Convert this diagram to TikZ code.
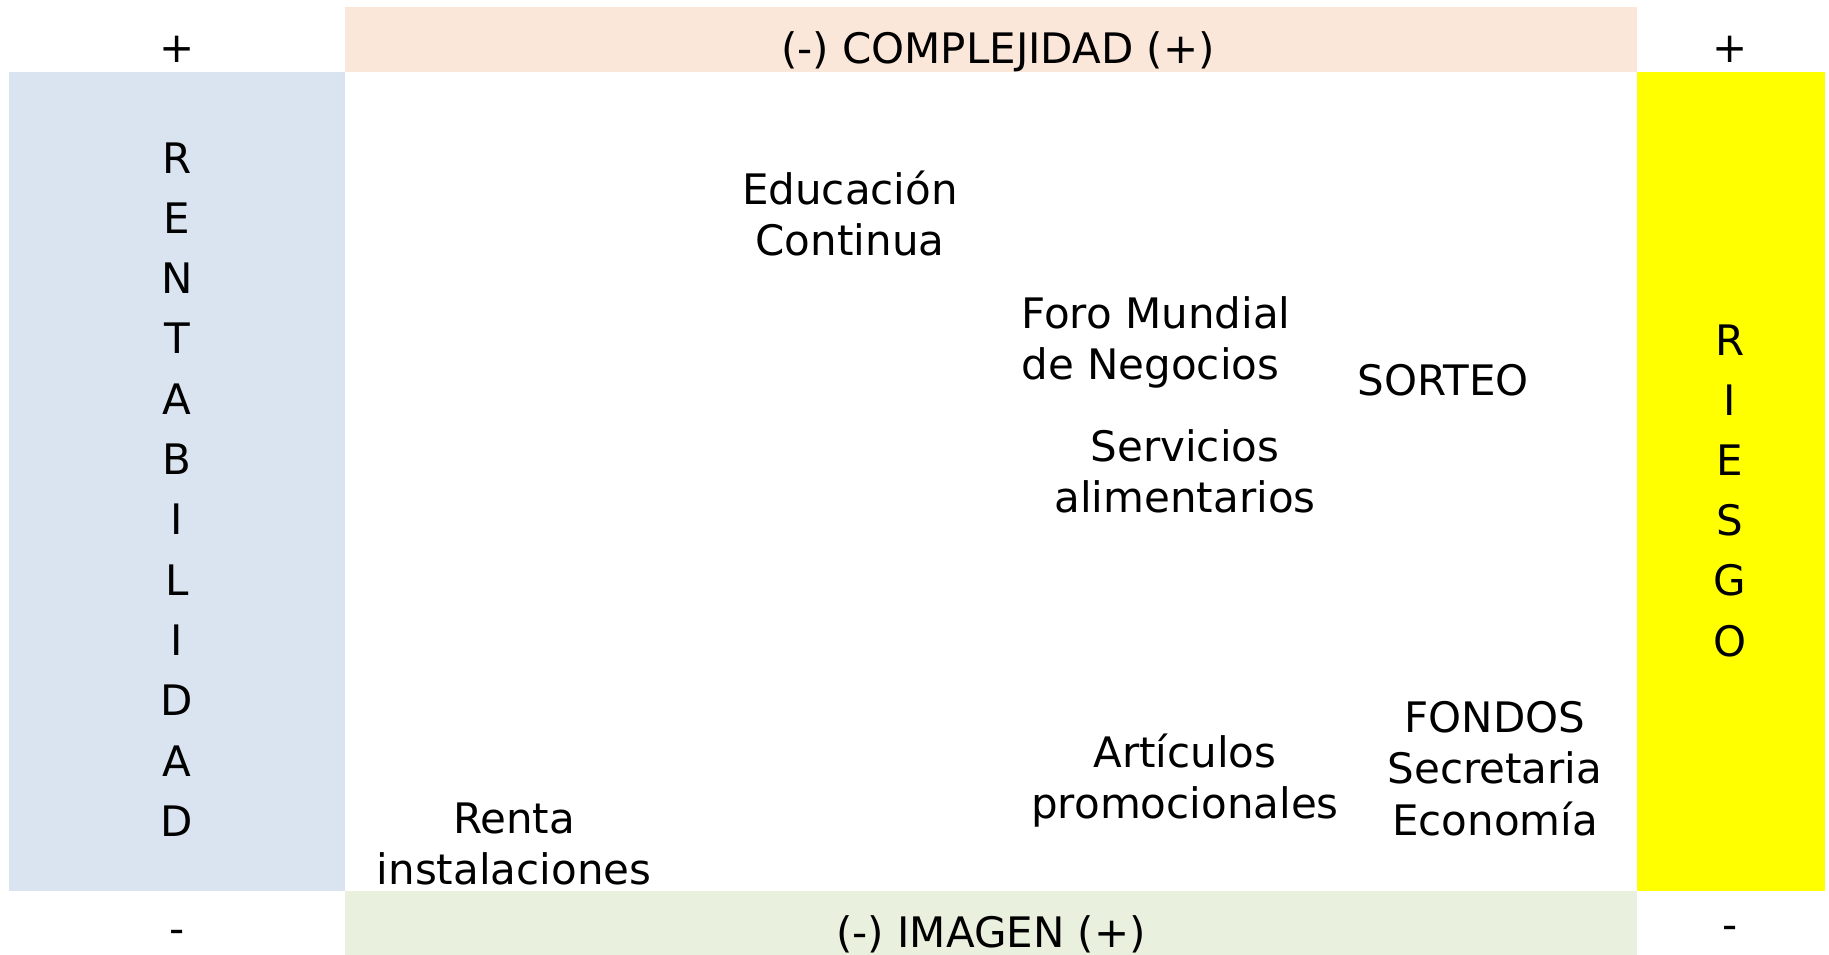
\documentclass[tikz,border=0pt]{standalone}
\usepackage{fontspec}
\setmainfont{DejaVu Sans}
\definecolor{rentblue}{HTML}{DAE3F0}
\definecolor{compeach}{HTML}{FBE7DA}
\definecolor{imggreen}{HTML}{E9F0DE}
\definecolor{riskyellow}{HTML}{FFFF00}
\newcommand{\lnsc}[1]{\begin{tabular}[t]{@{}c@{}}#1\end{tabular}}
\newcommand{\lnsl}[1]{\begin{tabular}[t]{@{}l@{}}#1\end{tabular}}
\tikzset{
  lbl/.style={inner sep=0pt, outer sep=0pt, font=\fontsize{42}{51.3}\selectfont, anchor=base},
  sgn/.style={inner sep=0pt, outer sep=0pt, font=\fontsize{42}{51.3}\selectfont, anchor=center}
}
\begin{document}
\begin{tikzpicture}[x=1pt,y=-1pt]
\useasboundingbox (0,0) rectangle (1829,955);
% bands
\fill[compeach] (345,7) rectangle (1637,72);
\fill[rentblue] (9,72) rectangle (345,891);
\fill[riskyellow] (1637,72) rectangle (1825,891);
\fill[imggreen] (345,891) rectangle (1637,955);
% axis titles
\node[lbl] (comp) at (998,63.5) {(-) COMPLEJIDAD (+)};
\node[lbl] (imag) at (991,947.5) {(-) IMAGEN (+)};
\node[sgn] (plusL) at (177,49) {+};
\node[sgn] (plusR) at (1730,49) {+};
\node[sgn] (minL) at (177,937) {-};
\node[sgn] (minR) at (1730,933) {-};
% vertical words
\foreach \ch [count=\i from 0] in {R,E,N,T,A,B,I,L,I,D,A,D}
  \node[lbl] (rent\i) at (177,173+60.3*\i) {\ch};
\foreach \ch [count=\i from 0] in {R,I,E,S,G,O}
  \node[lbl] (risk\i) at (1730,355+60.2*\i) {\ch};
% items
\node[lbl] (edu) at (850,204.5) {\lnsc{Educación\\Continua}};
\node[lbl, anchor=base west] (foro) at (1021.5,328) {\lnsl{Foro Mundial\\de Negocios}};
\node[lbl] (sorteo) at (1443,395.5) {SORTEO};
\node[lbl] (serv) at (1185,461) {\lnsc{Servicios\\alimentarios}};
\node[lbl] (art) at (1185,767.5) {\lnsc{Artículos\\promocionales}};
\node[lbl] (fondos) at (1495,732.5) {\lnsc{FONDOS\\Secretaria\\Economía}};
\node[lbl] (renta) at (514,833) {\lnsc{Renta\\instalaciones}};
\end{tikzpicture}
\end{document}
